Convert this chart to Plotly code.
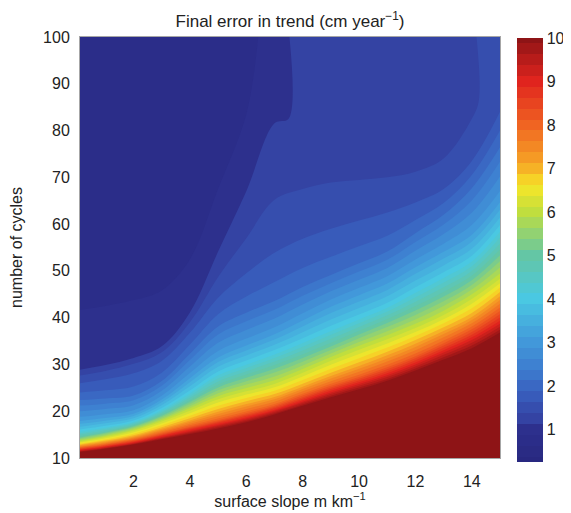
import plotly.graph_objects as go

# surface slope nodes (m km^-1)
slope = [0.1, 1, 2, 3, 4, 5, 6, 7, 8, 9, 10, 11, 12, 13, 14, 15]

# number of cycles at which the final error reaches each level
cycles_bottom = [10] * 16
err_bottom = [10.4, 10.8, 11, 11, 11, 11, 11, 11, 11, 11, 11, 11, 11, 11, 11, 11]
cycles_err10 = [11.2, 11.9, 12.8, 13.9, 15.0, 16.2, 17.5, 19.2, 21.0, 22.8, 24.5, 26.3, 28.5, 30.8, 33.2, 36.5]
cycles_err9 = [11.7, 12.4, 13.3, 14.6, 15.9, 17.2, 18.6, 20.2, 22.2, 24.2, 26.0, 27.9, 30.2, 32.8, 35.5, 39.0]
cycles_err8 = [12.2, 12.9, 13.9, 15.3, 16.8, 18.2, 19.7, 21.3, 23.5, 25.6, 27.5, 29.6, 32.0, 34.8, 37.8, 41.8]
cycles_err7 = [12.8, 13.6, 14.7, 16.4, 18.2, 20.1, 21.8, 23.3, 25.5, 27.8, 30.0, 32.3, 34.8, 37.5, 40.5, 45.0]
cycles_err6 = [13.6, 14.6, 16.0, 18.0, 20.4, 22.9, 24.6, 26.2, 28.6, 31.2, 33.6, 35.8, 38.2, 41.0, 44.5, 48.8]
cycles_err5 = [14.5, 15.5, 16.9, 19.2, 22.2, 25.4, 27.5, 29.5, 31.8, 34.2, 36.8, 39.3, 42.0, 45.0, 48.5, 54.0]
cycles_err4 = [15.8, 16.6, 17.8, 20.4, 24.0, 28.0, 30.3, 32.5, 35.0, 37.6, 40.0, 42.5, 45.8, 49.0, 52.5, 59.0]
cycles_err3 = [18.2, 18.8, 19.7, 22.8, 27.5, 32.0, 34.6, 37.0, 40.0, 43.0, 45.5, 48.0, 51.5, 54.8, 58.5, 65.5]
cycles_err2 = [23.0, 23.3, 23.9, 27.0, 33.0, 39.0, 42.0, 44.5, 47.5, 50.0, 52.5, 55.0, 59.0, 63.0, 69.0, 78.0]
cycles_err1_5 = [27, 28, 29.5, 32, 38, 46, 52, 57, 60, 62, 63.5, 65, 66.5, 69, 75, 86]
cycles_upper = [30, 31, 32.5, 35, 43, 59, 76, 93, 72, 73, 73, 73, 74, 77, 84, 94]
err_upper = [0.9, 0.9, 0.9, 0.9, 0.9, 0.9, 0.9, 0.95, 1.3, 1.3, 1.3, 1.3, 1.3, 1.3, 1.35, 1.45]
cycles_top = [100] * 16
err_top = [0.75, 0.75, 0.75, 0.75, 0.75, 0.78, 0.82, 0.95, 1.28, 1.28, 1.28, 1.28, 1.28, 1.3, 1.35, 1.5]

x_ticks = [2, 4, 6, 8, 10, 12, 14]
y_ticks = [10, 20, 30, 40, 50, 60, 70, 80, 90, 100]
cbar_ticks = [1, 2, 3, 4, 5, 6, 7, 8, 9, 10]

rows_y = [cycles_bottom, cycles_err10, cycles_err9, cycles_err8, cycles_err7, cycles_err6,
          cycles_err5, cycles_err4, cycles_err3, cycles_err2, cycles_err1_5, cycles_upper, cycles_top]
rows_z = [err_bottom, [10] * 16, [9] * 16, [8] * 16, [7] * 16, [6] * 16, [5] * 16, [4] * 16,
          [3] * 16, [2] * 16, [1.5] * 16, err_upper, err_top]
rows_x = [list(slope) for _ in rows_y]
b_idx = list(range(len(rows_y)))

# muted "jet" colour map; position = (value - 0.25) / 9.75
jet_muted = [
    [0.0, "rgb(40,40,128)"],
    [0.082, "rgb(45,48,142)"],
    [0.097, "rgb(51,64,160)"],
    [0.128, "rgb(54,78,174)"],
    [0.159, "rgb(56,94,188)"],
    [0.21, "rgb(60,120,205)"],
    [0.282, "rgb(66,152,218)"],
    [0.385, "rgb(74,200,226)"],
    [0.487, "rgb(100,198,165)"],
    [0.59, "rgb(192,222,62)"],
    [0.651, "rgb(246,230,40)"],
    [0.703, "rgb(246,164,38)"],
    [0.795, "rgb(240,100,34)"],
    [0.897, "rgb(224,36,30)"],
    [1.0, "rgb(142,20,22)"],
]

hidden_axis = dict(showgrid=False, showline=False, showticklabels="none", startline=False,
                   endline=False, minorgridcount=0, smoothing=0)

fig = go.Figure()
fig.add_trace(go.Carpet(
    carpet="c1", a=slope, b=b_idx, x=rows_x, y=rows_y,
    aaxis=hidden_axis, baxis=hidden_axis,
))
fig.add_trace(go.Contourcarpet(
    carpet="c1", a=slope, b=b_idx, z=rows_z,
    autocontour=False,
    contours=dict(start=0.375, end=9.875, size=0.25, coloring="fill", showlines=False),
    line=dict(width=0),
    colorscale=jet_muted,
    colorbar=dict(x=1.0405, xanchor="left", xpad=0, y=0.494, yanchor="middle", len=1.007,
                  lenmode="fraction", ypad=0, thickness=26, outlinewidth=0,
                  tickvals=cbar_ticks, ticks="", tickfont=dict(size=16, color="#222")),
))

font = dict(family="Liberation Sans, Arial, sans-serif", size=16, color="#222")
fig.update_layout(
    width=563, height=505,
    margin=dict(l=72, r=71, t=29, b=55, autoexpand=False),
    paper_bgcolor="white", plot_bgcolor="white",
    font=font,
    title=dict(text="Final error in trend (cm year<sup>−1</sup>)", x=0.5, xref="paper",
               xanchor="center", y=0.974, yanchor="middle", font=dict(size=17, color="#222")),
    xaxis=dict(range=[0.1, 15], tickvals=x_ticks, showgrid=False, zeroline=False,
               showline=True, mirror=True, linecolor="rgba(0,0,0,0.35)", linewidth=1,
               ticks="outside", ticklen=9, tickcolor="rgba(0,0,0,0)", tickfont=dict(size=16),
               automargin=False,
               title=dict(text="surface slope m km<sup>−1</sup>", standoff=6, font=dict(size=16))),
    yaxis=dict(range=[10, 100], tickvals=y_ticks, showgrid=False, zeroline=False,
               showline=True, mirror=True, linecolor="rgba(0,0,0,0.35)", linewidth=1,
               ticks="outside", ticklen=6, tickcolor="rgba(0,0,0,0)", tickfont=dict(size=16),
               automargin=False,
               title=dict(text="number of cycles", standoff=16, font=dict(size=16))),
    showlegend=False,
)

fig.write_html("out.html")
